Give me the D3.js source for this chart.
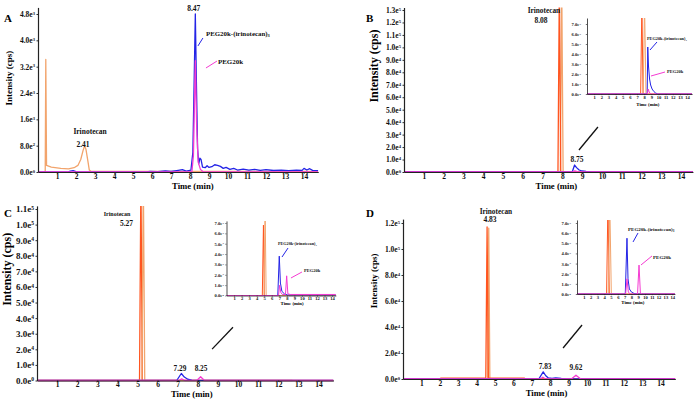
<!DOCTYPE html>
<html>
<head>
<meta charset="utf-8">
<script src="https://cdn.jsdelivr.net/npm/d3@7"></script>
<style>
  html, body { margin: 0; padding: 0; background: #fff; }
  svg { display: block; font-family: "Liberation Serif", "Times New Roman", serif; font-weight: bold; }
</style>
</head>
<body>
<svg id="fig" width="700" height="399"></svg>
<script>
const RED = '#ff5520', TAN = '#f2a46c', BLUE = '#2424e6', PINK = '#f53ad2'

const xTicks = [1, 2, 3, 4, 5, 6, 7, 8, 9, 10, 11, 12, 13, 14]
const insetYTicks = [0, 1000, 2000, 3000, 4000, 5000, 6000, 7000]
const insetYLabels = ['0.0e0', '1.0e3', '2.0e3', '3.0e3', '4.0e3', '5.0e3', '6.0e3', '7.0e3']

// ---- A ----
const aYTicks = [0, 800, 1600, 2400, 3200, 4000, 4800]
const aYLabels = ['0.0e0', '8.0e2', '1.6e3', '2.4e3', '3.2e3', '4.0e3', '4.8e3']
const aTan = [[0, 0], [0.38, 0], [0.41, 3420], [0.45, 200], [0.7, 150], [1.2, 110], [1.6, 95], [1.9, 130], [2.1, 200],
  [2.25, 380], [2.37, 650], [2.45, 790], [2.52, 700], [2.62, 350], [2.7, 60], [2.8, 15], [14.75, 15]]
const aBlue = [[0, 0], [1.55, 0], [1.7, 25], [1.85, 40], [2.0, 10], [2.2, 0], [5.7, 0], [5.9, 20], [6.3, 10], [6.7, 30],
  [7.0, 15], [7.3, 45], [7.6, 70], [7.8, 30], [8.05, 60], [8.15, 600], [8.22, 2800], [8.28, 4800], [8.34, 2600],
  [8.4, 700], [8.46, 250], [8.52, 420], [8.58, 380], [8.66, 150], [8.8, 130], [8.9, 190], [9.0, 140], [9.15, 160],
  [9.3, 220], [9.45, 200], [9.6, 170], [9.75, 110], [9.9, 140], [10.1, 80], [10.3, 110], [10.5, 60], [10.8, 90],
  [11.1, 60], [11.4, 80], [11.7, 50], [12.0, 70], [12.4, 45], [12.8, 60], [13.2, 40], [13.6, 55], [13.9, 50],
  [14.0, 110], [14.15, 60], [14.3, 100], [14.45, 50], [14.75, 40]]
const aPink = [[0, 0], [8.1, 0], [8.18, 500], [8.28, 3380], [8.35, 1400], [8.43, 300], [8.55, 80], [8.7, 0], [14.75, 0]]

// ---- B ----
const bYTicks = [0, 10000, 20000, 30000, 40000, 50000, 60000, 70000, 80000, 90000, 100000, 110000, 120000, 130000]
const bYLabels = ['0.0e0', '1.0e4', '2.0e4', '3.0e4', '4.0e4', '5.0e4', '6.0e4', '7.0e4', '8.0e4', '9.0e4',
  '1.0e5', '1.1e5', '1.2e5', '1.3e5']
const bRed = [[0, 0], [7.78, 0], [7.85, 150000], [7.92, 0], [14.6, 0]]
const bTan = [[0, 0], [7.9, 0], [7.97, 150000], [8.04, 0], [14.6, 0]]
const bBlue = [[0, 0], [8.5, 0], [8.62, 5600], [8.72, 3500], [8.85, 1600], [9.0, 800], [9.2, 400], [9.5, 150],
  [9.9, 0], [14.6, 0]]
const bPink = [[0, 0], [8.52, 0], [8.63, 900], [8.75, 300], [8.95, 0], [14.6, 0]]
const ibRed = [[0, 0], [7.5, 0], [7.68, 9000], [7.84, 0], [14.7, 0]]
const ibTan = [[0, 0], [7.86, 0], [8.05, 9000], [8.25, 0], [14.7, 0]]
const ibBlue = [[0, 0], [8.42, 0], [8.5, 4700], [8.6, 2800], [8.75, 1500], [8.9, 900], [9.1, 500], [9.35, 250],
  [9.6, 100], [9.9, 0], [14.7, 0]]
const ibPink = [[0, 0], [8.45, 0], [8.55, 500], [8.7, 200], [8.9, 0], [14.7, 0]]

// ---- C ----
const cYTicks = [0, 10000, 20000, 30000, 40000, 50000, 60000, 70000, 80000, 90000, 100000, 110000]
const cYLabels = ['0.0e0', '1.0e4', '2.0e4', '3.0e4', '4.0e4', '5.0e4', '6.0e4', '7.0e4', '8.0e4', '9.0e4',
  '1.0e5', '1.1e5']
const cRed = [[0, 0], [5.1, 0], [5.17, 130000], [5.24, 0], [14.75, 0]]
const cTan = [[0, 0], [5.22, 0], [5.29, 130000], [5.36, 0], [12.7, 0]]
const cBlue = [[0, 0], [6.95, 0], [7.18, 4500], [7.33, 2200], [7.5, 800], [7.7, 300], [8.0, 100], [8.4, 0], [14.75, 0]]
const cPink = [[0, 0], [7.05, 0], [7.2, 1000], [7.35, 0], [7.95, 0], [8.14, 2400], [8.33, 0], [14.75, 0]]
const icRed = [[0, 0], [4.75, 0], [4.9, 6800], [5.02, 0], [14.5, 0]]
const icTan = [[0, 0], [4.98, 0], [5.12, 8500], [5.26, 0], [14.5, 0]]
const icBlue = [[0, 0], [6.8, 0], [7.0, 3800], [7.15, 1200], [7.35, 400], [7.7, 150], [8.1, 50], [14.5, 50]]
const icPink = [[0, 0], [6.9, 0], [7.05, 1000], [7.2, 300], [7.4, 100], [7.82, 80], [7.98, 1900], [8.14, 150],
  [8.5, 100], [14.5, 100]]

// ---- D ----
const dYTicks = [0, 20000, 40000, 60000, 80000, 100000, 120000]
const dYLabels = ['0.0e0', '2.0e4', '4.0e4', '6.0e4', '8.0e4', '1.0e5', '1.2e5']
const dRed = [[0, 0], [2.0, 0], [2.05, 700], [4.5, 700], [4.57, 117000], [4.64, 700], [6.6, 700], [6.65, 0], [14.8, 0]]
const dTan = [[0, 0], [4.6, 0], [4.66, 116000], [4.72, 0], [14.8, 0]]
const dBlue = [[0, 0], [7.38, 0], [7.62, 5500], [7.76, 2500], [7.9, 800], [8.1, 500], [8.3, 900], [8.6, 400],
  [8.9, 100], [9.2, 0], [14.8, 0]]
const dPink = [[0, 0], [7.45, 0], [7.6, 1400], [7.75, 0], [9.15, 0], [9.4, 2900], [9.66, 0], [14.8, 0]]
const idRed = [[0, 0], [4.35, 0], [4.55, 9000], [4.75, 0], [14.4, 0]]
const idTan = [[0, 0], [4.6, 0], [4.82, 9000], [5.05, 0], [14.4, 0]]
const idBlue = [[0, 0], [7.1, 0], [7.35, 5500], [7.5, 1500], [7.7, 500], [8.0, 200], [8.4, 50], [8.8, 0], [14.4, 0]]
const idPink = [[0, 0], [7.15, 0], [7.35, 1500], [7.55, 200], [7.8, 0], [8.9, 0], [9.12, 2850], [9.32, 100],
  [9.6, 0], [14.4, 0]]

const svg = d3.select('#fig')

function drawPanel(p) {
  const x = d3.scaleLinear().domain([0, p.xMax]).range([p.x0, p.x0 + p.xMax * p.ppm])
  const y = d3.scaleLinear().domain([0, p.yMax]).range([p.y0, p.y0 - p.yMax * p.ppu])
  const g = svg.append('g')

  g.append('clipPath').attr('id', 'clip' + p.id)
    .append('rect')
    .attr('x', x(0)).attr('y', y(p.yMax))
    .attr('width', x(p.xMax) - x(0)).attr('height', y(0) - y(p.yMax) + 1)

  const line = d3.line().x((d) => x(d[0])).y((d) => y(d[1]))
  g.append('g').attr('clip-path', `url(#clip${p.id})`)
    .selectAll('path').data(p.series).join('path')
    .attr('d', (s) => line(s.data))
    .attr('fill', 'none')
    .attr('stroke', (s) => s.color)
    .attr('stroke-width', p.lw)
    .attr('stroke-linejoin', 'round')

  const xAxis = g.append('g')
    .attr('transform', `translate(0,${p.y0})`)
    .call(d3.axisBottom(x).tickValues(xTicks).tickFormat(d3.format('d')).tickSizeInner(p.tick).tickSizeOuter(0).tickPadding(p.xPad))
  const yAxis = g.append('g')
    .attr('transform', `translate(${p.x0},0)`)
    .call(d3.axisLeft(y).tickValues(p.yTicks).tickSizeInner(p.tick).tickSizeOuter(0).tickPadding(p.yPad))
  for (const ax of [xAxis, yAxis]) {
    ax.attr('font-family', null).attr('font-size', null)
    ax.select('.domain').attr('stroke', '#222').attr('stroke-width', p.axisW)
    ax.selectAll('.tick line').attr('stroke', '#222').attr('stroke-width', p.axisW * 0.8)
    ax.selectAll('.tick text').attr('fill', '#111')
  }
  xAxis.selectAll('.tick text').attr('font-size', p.xFont)
  yAxis.selectAll('.tick text').attr('font-size', p.yFont)
    .each(function (d, i) {
      const [m, e] = p.yLabels[i].split('e')
      const t = d3.select(this).text(null)
      t.append('tspan').text(m + 'e')
      t.append('tspan').attr('dy', '-0.45em').attr('font-size', '0.62em').text(e)
    })

  g.append('text')
    .attr('x', x(p.xTitleT)).attr('y', p.y0 + p.xTitleDy)
    .attr('text-anchor', 'middle').attr('font-size', p.titleFont)
    .text('Time (min)')

  if (p.yTitleV !== undefined) {
    g.append('text')
      .attr('transform', `translate(${p.x0 - 26},${y(p.yTitleV)}) rotate(-90)`)
      .attr('text-anchor', 'middle').attr('font-size', p.yTitleFont)
      .text('Intensity (cps)')
  }

  if (p.letter) {
    g.append('text').attr('x', p.letter[0]).attr('y', p.letter[1])
      .attr('font-size', 11).text(p.id)
  }

  for (const s of p.pointers || []) {
    g.append('line')
      .attr('x1', x(s[0])).attr('y1', y(s[1]))
      .attr('x2', x(s[2])).attr('y2', y(s[3]))
      .attr('stroke', s[4]).attr('stroke-width', s[5] || 1)
  }

  for (const l of p.labels || []) {
    const t = g.append('text')
      .attr('x', x(l.t)).attr('y', y(l.v))
      .attr('text-anchor', l.anchor || 'middle')
      .attr('font-size', l.size)
      .attr('fill', '#111')
    t.append('tspan').text(l.text)
    if (l.sub) t.append('tspan').attr('dy', '0.3em').attr('font-size', '0.65em').text(l.sub)
  }
}

const mainCommon = {tick: 1.5, xPad: 0, yPad: 1.5, lw: 1.3, axisW: 1.2, xFont: 7.5, titleFont: 8.7, xTitleDy: 17}
const insetCommon = {tick: 1.2, xPad: 0.5, lw: 1, axisW: 0.8, xFont: 4.6, yFont: 4.6, titleFont: 4.8}

const panels = [
  {...mainCommon, id: 'A', letter: [4, 22], x0: 38, ppm: 19, xMax: 14.75, y0: 172, ppu: 158 / 4800, yMax: 5000,
    yTicks: aYTicks, yLabels: aYLabels, yFont: 7.5, yTitleV: 2850, yTitleFont: 9, xTitleT: 8.15,
    series: [{data: aTan, color: TAN}, {data: aBlue, color: BLUE}, {data: aPink, color: PINK}],
    pointers: [[8.42, 3830, 8.68, 4070, BLUE], [8.84, 3160, 9.42, 3370, PINK]],
    labels: [
      {text: 'Irinotecan', t: 2.74, v: 1150, size: 7.5},
      {text: '2.41', t: 2.37, v: 760, size: 7.5},
      {text: '8.47', t: 8.2, v: 4900, size: 7.5},
      {text: 'PEG20k-(irinotecan)', sub: '3', t: 8.84, v: 4130, size: 6.9, anchor: 'start'},
      {text: 'PEG20k', t: 9.47, v: 3280, size: 7, anchor: 'start'},
    ]},
  {...mainCommon, id: 'B', letter: [366, 22], x0: 404, ppm: 19.79, xMax: 14.6, y0: 172, ppu: 162 / 130000, yMax: 132000,
    yTicks: bYTicks, yLabels: bYLabels, yFont: 7.5, yTitleV: 85000, yTitleFont: 12, xTitleT: 7.7,
    series: [{data: bTan, color: TAN}, {data: bRed, color: RED}, {data: bBlue, color: BLUE}, {data: bPink, color: PINK}],
    pointers: [[8.84, 17650, 9.8, 36100, '#111', 1.3]],
    labels: [
      {text: 'Irinotecan', t: 7.07, v: 127600, size: 7.3},
      {text: '8.08', t: 6.92, v: 119600, size: 7.5},
      {text: '8.75', t: 8.74, v: 8000, size: 7.5},
    ]},
  {...insetCommon, id: 'Bi', x0: 587, ppm: 7.15, xMax: 14.7, y0: 94, ppu: 10 / 1000, yMax: 7600,
    yTicks: insetYTicks, yLabels: insetYLabels, yPad: 5, xTitleT: 8.5, xTitleDy: 11.5,
    series: [{data: ibRed, color: RED}, {data: ibTan, color: TAN}, {data: ibBlue, color: BLUE}, {data: ibPink, color: PINK}],
    pointers: [[8.81, 4400, 9.79, 5200, BLUE], [8.95, 1800, 10.91, 2200, PINK]],
    labels: [
      {text: 'PEG20k-(irinotecan)', sub: '3', t: 8.39, v: 5400, size: 4.3, anchor: 'start'},
      {text: 'PEG20k', t: 11.19, v: 2100, size: 4.5, anchor: 'start'},
    ]},
  {...mainCommon, id: 'C', letter: [4, 217], x0: 37, ppm: 20.1, xMax: 14.75, y0: 380.5, ppu: 171.5 / 110000, yMax: 112000,
    yTicks: cYTicks, yLabels: cYLabels, yFont: 9, yTitleV: 71300, yTitleFont: 12, xTitleT: 7.7, xTitleDy: 16,
    series: [{data: cRed, color: RED}, {data: cTan, color: TAN}, {data: cBlue, color: BLUE}, {data: cPink, color: PINK}],
    pointers: [[8.71, 20150, 9.75, 34200, '#111', 1.3]],
    labels: [
      {text: 'Irinotecan', t: 3.98, v: 105200, size: 6},
      {text: '5.27', t: 4.45, v: 98800, size: 7.5},
      {text: '7.29', t: 7.11, v: 6070, size: 7.3},
      {text: '8.25', t: 8.16, v: 6070, size: 7.3},
    ]},
  {...insetCommon, id: 'Ci', x0: 226.5, ppm: 7.54, xMax: 14.5, y0: 295.5, ppu: 72.5 / 7000, yMax: 7200,
    yTicks: insetYTicks, yLabels: insetYLabels, yPad: 1.5, xTitleT: 8.7, xTitleDy: 9.5,
    series: [{data: icRed, color: RED}, {data: icTan, color: TAN}, {data: icBlue, color: BLUE}, {data: icPink, color: PINK}],
    pointers: [[7.36, 3715, 8.16, 4584, BLUE], [8.55, 1690, 10.01, 2270, PINK]],
    labels: [
      {text: 'PEG20k-(irinotecan)', sub: '3', t: 6.83, v: 4870, size: 4.2, anchor: 'start'},
      {text: 'PEG20k', t: 10.28, v: 2270, size: 4.5, anchor: 'start'},
    ]},
  {...mainCommon, id: 'D', letter: [366, 217], x0: 403, ppm: 18.4, xMax: 14.8, y0: 379, ppu: 156 / 120000, yMax: 123000,
    yTicks: dYTicks, yLabels: dYLabels, yFont: 7.5, yTitleV: 75400, yTitleFont: 9, xTitleT: 7.8, xTitleDy: 17,
    series: [{data: dTan, color: TAN}, {data: dRed, color: RED}, {data: dBlue, color: BLUE}, {data: dPink, color: PINK}],
    pointers: [[8.7, 23850, 9.73, 41540, '#111', 1.3]],
    labels: [
      {text: 'Irinotecan', t: 5.05, v: 126900, size: 7.3},
      {text: '4.83', t: 4.73, v: 120800, size: 7.5},
      {text: '7.83', t: 7.72, v: 7700, size: 7.3},
      {text: '9.62', t: 9.4, v: 6900, size: 7.3},
    ]},
  {...insetCommon, id: 'Di', x0: 577, ppm: 6.8, xMax: 14.4, y0: 294, ppu: 71 / 7000, yMax: 7300,
    yTicks: insetYTicks, yLabels: insetYLabels, yPad: 5, xTitleT: 8.2, xTitleDy: 10,
    series: [{data: idRed, color: RED}, {data: idTan, color: TAN}, {data: idBlue, color: BLUE}, {data: idPink, color: PINK}],
    pointers: [[8.24, 5130, 8.97, 6010, BLUE], [9.41, 2860, 11.03, 3750, PINK]],
    labels: [
      {text: 'PEG20k-(irinotecan)', sub: '3', t: 7.5, v: 6210, size: 5, anchor: 'start'},
      {text: 'PEG20k', t: 11.18, v: 3450, size: 5, anchor: 'start'},
    ]},
]

panels.forEach(drawPanel)
</script>
</body>
</html>
